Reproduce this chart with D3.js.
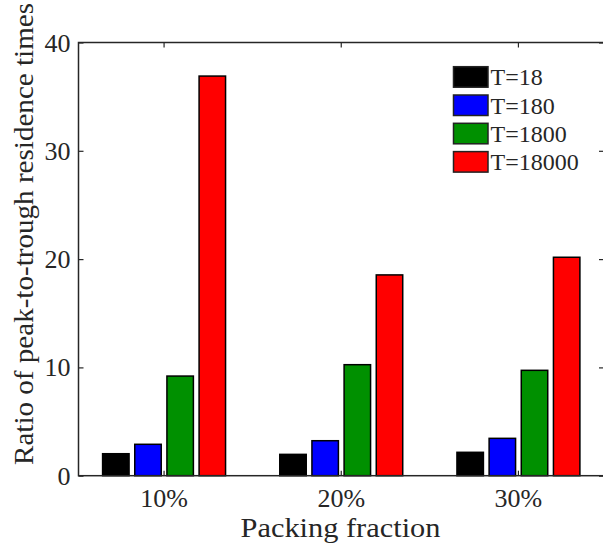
<!DOCTYPE html>
<html lang="en">
<head>
    <meta charset="UTF-8">
    <script src="https://cdn.jsdelivr.net/npm/d3@7"></script>
    <title>residence ratio</title>
    <style>
        body { margin: 0; background: #fff; }
    </style>
</head>
<body>
    <script>
        // data
        const categories = ['10%', '20%', '30%'];
        const series = ['T=18', 'T=180', 'T=1800', 'T=18000'];
        const colors = ['#000000', '#0000ff', '#009000', '#ff0000'];
        const values = [
            [2.03, 2.9, 9.2, 36.9],    // 10%
            [1.97, 3.23, 10.25, 18.54], // 20%
            [2.16, 3.45, 9.73, 20.17]   // 30%
        ];
        const yTicks = [0, 10, 20, 30, 40];

        const FONT = "'Liberation Serif', serif";
        const width = 603, height = 544;
        const margin = {left: 78.5, right: -1, top: 42.5, bottom: 68.3};
        const x0 = margin.left, x1 = width - margin.right;
        const y0 = height - margin.bottom, y1 = margin.top;

        const svg = d3.select('body').append('svg')
            .attr('width', width)
            .attr('height', height)
            .attr('font-family', FONT);

        // scales
        const xGroup = d3.scaleBand()
            .domain(categories)
            .range([x0, x1])
            .paddingInner(0.306)
            .paddingOuter(0.136);
        const xBar = d3.scaleBand()
            .domain(series)
            .range([0, xGroup.bandwidth()])
            .paddingInner(0.177)
            .paddingOuter(0);
        const y = d3.scaleLinear().domain([0, 40]).range([y0, y1]);

        // bars
        const groups = svg.selectAll('g.grp')
            .data(categories)
            .enter()
            .append('g')
            .attr('class', 'grp')
            .attr('transform', d => 'translate(' + xGroup(d) + ',0)');

        groups.selectAll('rect')
            .data((d, i) => values[i].map((v, j) => ({s: series[j], v: v, c: colors[j]})))
            .enter()
            .append('rect')
            .attr('x', d => xBar(d.s))
            .attr('y', d => y(d.v))
            .attr('width', xBar.bandwidth())
            .attr('height', d => y(0) - y(d.v))
            .attr('fill', d => d.c)
            .attr('stroke', '#000')
            .attr('stroke-width', 1.5);

        // axes (ticks pointing inward, box all around)
        const tickLen = 5;
        const axisColor = '#262626';
        const fs = 26;

        const leftAxis = svg.append('g').attr('transform', 'translate(' + x0 + ',0)')
            .call(d3.axisLeft(y).tickValues(yTicks).tickSize(-tickLen).tickPadding(8));
        const rightAxis = svg.append('g').attr('transform', 'translate(' + x1 + ',0)')
            .call(d3.axisRight(y).tickValues(yTicks).tickSize(-tickLen).tickFormat(''));
        const bottomAxis = svg.append('g').attr('transform', 'translate(0,' + y0 + ')')
            .call(d3.axisBottom(xGroup).tickSize(-tickLen).tickPadding(13));
        const topAxis = svg.append('g').attr('transform', 'translate(0,' + y1 + ')')
            .call(d3.axisTop(xGroup).tickSize(-tickLen).tickFormat(''));

        [leftAxis, rightAxis, bottomAxis, topAxis].forEach(a => {
            a.attr('font-family', FONT).attr('font-size', fs);
            a.select('.domain').remove();
            a.selectAll('.tick line').attr('stroke', axisColor).attr('stroke-width', 1.2);
            a.selectAll('.tick text').attr('fill', axisColor);
        });
        svg.append('rect')
            .attr('x', x0).attr('y', y1)
            .attr('width', x1 - x0).attr('height', y0 - y1)
            .attr('fill', 'none')
            .attr('stroke', axisColor)
            .attr('stroke-width', 1.5);
        leftAxis.selectAll('.tick text').attr('dy', '0.33em');
        bottomAxis.selectAll('.tick text').attr('dy', '0.7em');

        // axis labels
        svg.append('text')
            .attr('x', 340.5)
            .attr('y', 537)
            .attr('text-anchor', 'middle')
            .attr('font-size', 27)
            .attr('fill', axisColor)
            .attr('textLength', 200)
            .attr('lengthAdjust', 'spacingAndGlyphs')
            .text('Packing fraction');

        svg.append('text')
            .attr('transform', 'translate(33,234) rotate(-90)')
            .attr('text-anchor', 'middle')
            .attr('font-size', 27)
            .attr('fill', axisColor)
            .attr('textLength', 462)
            .attr('lengthAdjust', 'spacingAndGlyphs')
            .text('Ratio of peak-to-trough residence times');

        // legend
        const legend = svg.append('g').attr('transform', 'translate(453.5,66.7)');
        const rowH = 28.3;
        const item = legend.selectAll('g')
            .data(series)
            .enter()
            .append('g')
            .attr('transform', (d, i) => 'translate(0,' + i * rowH + ')');
        item.append('rect')
            .attr('width', 34.5)
            .attr('height', 20.5)
            .attr('fill', (d, i) => colors[i])
            .attr('stroke', '#222')
            .attr('stroke-width', 1.5);
        item.append('text')
            .attr('x', 37)
            .attr('y', 18.5)
            .attr('font-size', 24)
            .attr('fill', axisColor)
            .text(d => d);
    </script>
</body>
</html>
